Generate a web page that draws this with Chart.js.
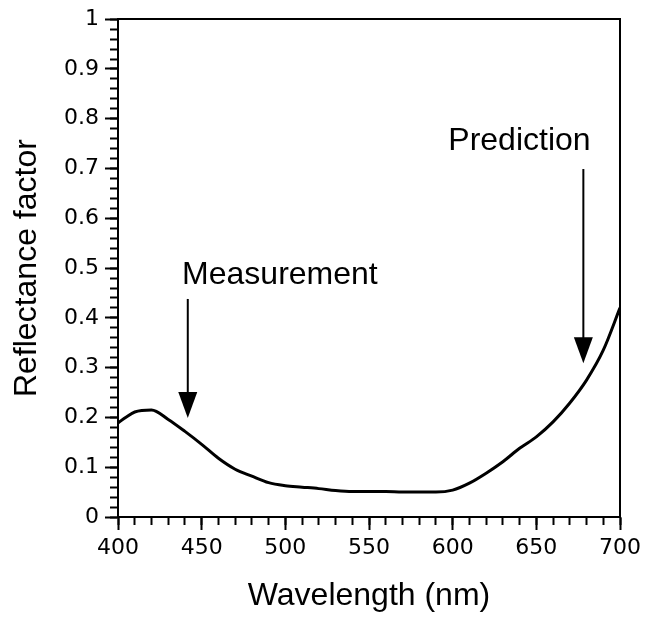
<!DOCTYPE html>
<html>
<head>
<meta charset="utf-8">
<script src="https://cdn.jsdelivr.net/npm/chart.js@4.4.1/dist/chart.umd.min.js"></script>
<style>
  html, body { margin: 0; padding: 0; background: #fff; }
  canvas { display: block; }
</style>
</head>
<body>
<canvas id="c" width="655" height="618"></canvas>
<script>
// Spectral reflectance curve
const wavelengths = [400, 405, 410, 420, 430, 440, 450, 460, 470, 480, 490, 500, 510, 520, 530,
                     540, 550, 560, 570, 580, 590, 600, 610, 620, 630, 640, 650, 660, 670, 680, 690, 700];
const reflectance = [0.189, 0.201, 0.211, 0.215, 0.196, 0.172, 0.146, 0.118, 0.096, 0.082, 0.069, 0.063, 0.060, 0.057, 0.053,
                     0.051, 0.051, 0.051, 0.050, 0.050, 0.050, 0.054, 0.068, 0.088, 0.111, 0.138, 0.161, 0.191, 0.229, 0.275, 0.335, 0.420];

// Axis tick labels
const xTickLabels = ['400', '450', '500', '550', '600', '650', '700'];
const yTickLabels = ['0', '0.1', '0.2', '0.3', '0.4', '0.5', '0.6', '0.7', '0.8', '0.9', '1'];

// Callout arrows (data coordinates)
const arrowLabels = ['Measurement', 'Prediction'];
const arrowX = [441.7, 678.1];
const arrowTail = [0.438, 0.699];
const arrowTip = [0.199, 0.309];
const labelX = [438.3, 597.4];
const labelY = [0.468, 0.737];

const tickFont = { family: 'DejaVu Sans', size: 22 };
const titleFont = { family: 'Liberation Sans', size: 32 };

const calloutPlugin = {
  id: 'callouts',
  afterDatasetsDraw(chart) {
    const { ctx, scales: { x, y } } = chart;
    ctx.save();
    ctx.fillStyle = '#000';
    ctx.strokeStyle = '#000';
    arrowLabels.forEach((label, i) => {
      const px = x.getPixelForValue(arrowX[i]);
      const pTail = y.getPixelForValue(arrowTail[i]);
      const pTip = y.getPixelForValue(arrowTip[i]);
      const headLen = 26, headHalf = 9.5;
      ctx.lineWidth = 2;
      ctx.beginPath();
      ctx.moveTo(px, pTail);
      ctx.lineTo(px, pTip - headLen + 1);
      ctx.stroke();
      ctx.beginPath();
      ctx.moveTo(px - headHalf, pTip - headLen);
      ctx.lineTo(px + headHalf, pTip - headLen);
      ctx.lineTo(px, pTip);
      ctx.closePath();
      ctx.fill();
      ctx.font = '32px "Liberation Sans"';
      ctx.textAlign = 'left';
      ctx.textBaseline = 'alphabetic';
      ctx.fillText(label, x.getPixelForValue(labelX[i]), y.getPixelForValue(labelY[i]));
    });
    ctx.restore();
  }
};

new Chart(document.getElementById('c'), {
  type: 'line',
  data: {
    datasets: [{
      data: wavelengths.map((w, i) => ({ x: w, y: reflectance[i] })),
      borderColor: '#000',
      borderWidth: 3,
      pointRadius: 0,
      fill: false,
      cubicInterpolationMode: 'monotone'
    }]
  },
  options: {
    responsive: false,
    animation: false,
    devicePixelRatio: 1,
    layout: { padding: { top: 19, right: 35, bottom: 0, left: 0 } },
    plugins: { legend: { display: false }, tooltip: { enabled: false } },
    scales: {
      x: {
        type: 'linear', position: 'bottom', min: 400, max: 700,
        ticks: {
          stepSize: 50, color: '#000', font: tickFont, padding: 5, maxRotation: 0, autoSkip: false,
          callback: (v) => xTickLabels[Math.round((v - 400) / 50)]
        },
        grid: { drawOnChartArea: false, tickLength: 13, tickWidth: 2, tickColor: '#000', color: '#000' },
        border: { display: true, color: '#000', width: 2 },
        title: { display: true, text: 'Wavelength (nm)', color: '#000', font: titleFont, padding: { top: 0, bottom: 3 } },
        afterFit: (s) => { s.height = 101; }
      },
      y: {
        type: 'linear', position: 'left', min: 0, max: 1,
        ticks: {
          stepSize: 0.1, color: '#000', font: tickFont, padding: 6,
          callback: (v) => yTickLabels[Math.round(v * 10)]
        },
        grid: { drawOnChartArea: false, tickLength: 13, tickWidth: 2, tickColor: '#000', color: '#000' },
        border: { display: true, color: '#000', width: 2 },
        title: { display: true, text: 'Reflectance factor', color: '#000', font: titleFont, padding: { top: 8, bottom: 0 } },
        afterFit: (s) => { s.width = 118; }
      },
      xMinor: {
        axis: 'x', type: 'linear', position: { y: 0 }, min: 400, max: 700,
        ticks: { stepSize: 10, display: false },
        grid: { drawOnChartArea: false, tickLength: 8, tickWidth: 2, tickColor: '#000', color: '#000' },
        border: { display: false }
      },
      yMinor: {
        axis: 'y', type: 'linear', position: { x: 400 }, min: 0, max: 1,
        ticks: { stepSize: 0.02, display: false },
        grid: { drawOnChartArea: false, tickLength: 8, tickWidth: 2, tickColor: '#000', color: '#000' },
        border: { display: false }
      },
      xTop: {
        axis: 'x', type: 'linear', position: 'top', min: 400, max: 700,
        ticks: { display: false },
        grid: { drawOnChartArea: false, drawTicks: false, color: '#000' },
        border: { display: true, color: '#000', width: 2 },
        afterFit: (s) => { s.height = 0; }
      },
      yRight: {
        axis: 'y', type: 'linear', position: 'right', min: 0, max: 1,
        ticks: { display: false },
        grid: { drawOnChartArea: false, drawTicks: false, color: '#000' },
        border: { display: true, color: '#000', width: 2 },
        afterFit: (s) => { s.width = 0; }
      }
    }
  },
  plugins: [calloutPlugin]
});
</script>
</body>
</html>
